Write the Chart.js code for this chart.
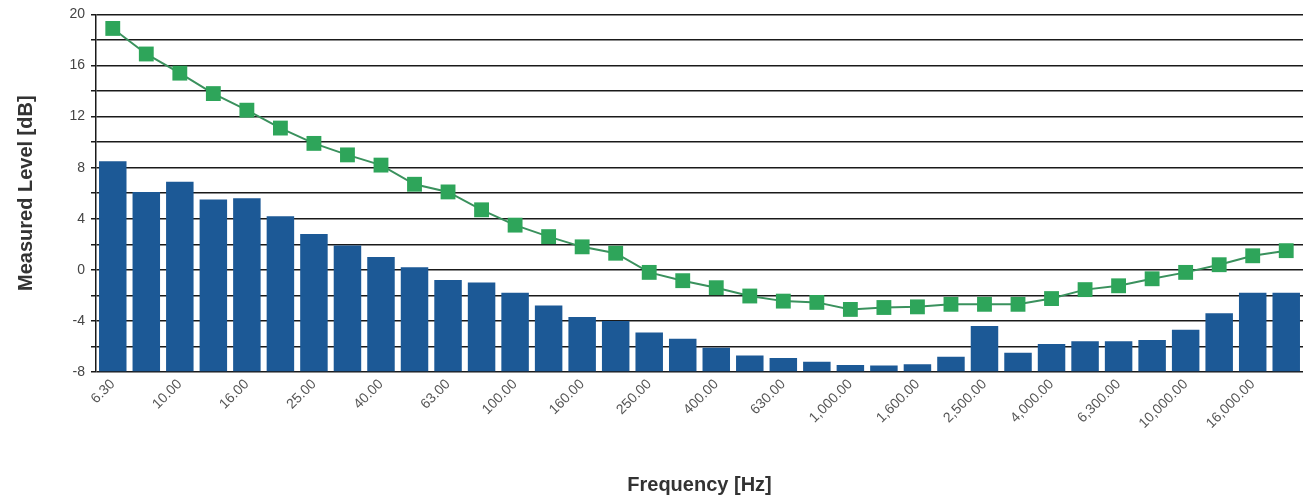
<!DOCTYPE html>
<html>
<head>
<meta charset="utf-8">
<script src="https://cdn.jsdelivr.net/npm/chart.js@4/dist/chart.umd.min.js"></script>
<style>
html,body{margin:0;padding:0;background:#fff;}
#wrap{width:1303px;height:502px;position:relative;}
</style>
</head>
<body>
<div id="wrap"><canvas id="c"></canvas></div>
<script>
const categories = ["6.30","8.00","10.00","12.50","16.00","20.00","25.00","31.50","40.00","50.00","63.00","80.00","100.00","125.00","160.00","200.00","250.00","315.00","400.00","500.00","630.00","800.00","1,000.00","1,250.00","1,600.00","2,000.00","2,500.00","3,150.00","4,000.00","5,000.00","6,300.00","8,000.00","10,000.00","12,500.00","16,000.00","20,000.00"];
const measuredBars = [8.5,6.1,6.9,5.5,5.6,4.2,2.8,1.9,1.0,0.2,-0.8,-1.0,-1.8,-2.8,-3.7,-4.0,-4.9,-5.4,-6.1,-6.7,-6.9,-7.2,-7.45,-7.5,-7.4,-6.8,-4.4,-6.5,-5.8,-5.6,-5.6,-5.5,-4.7,-3.4,-1.8,-1.8];
const curveLine = [18.9,16.9,15.4,13.8,12.5,11.1,9.9,9.0,8.2,6.7,6.1,4.7,3.5,2.6,1.8,1.3,-0.2,-0.85,-1.4,-2.05,-2.45,-2.55,-3.1,-2.95,-2.9,-2.7,-2.7,-2.7,-2.25,-1.55,-1.25,-0.7,-0.2,0.4,1.1,1.5];
const yMin = -8, yMax = 20, yStep = 2, yLabelEvery = 4;

new Chart(document.getElementById('c'), {
  data: {
    labels: categories,
    datasets: [
      {
        type: 'line',
        data: curveLine,
        borderColor: '#3a915d',
        borderWidth: 2,
        pointStyle: 'rect',
        pointRadius: 10.5,
        pointBackgroundColor: '#2ea55a',
        pointBorderWidth: 0,
        pointBorderColor: '#2ea55a',
        tension: 0,
        clip: false,
        order: 0
      },
      {
        type: 'bar',
        data: measuredBars,
        backgroundColor: '#1c5996',
        borderWidth: 0,
        barPercentage: 0.82,
        categoryPercentage: 1.0,
        base: yMin,
        order: 1
      }
    ]
  },
  options: {
    responsive: true,
    maintainAspectRatio: false,
    animation: false,
    layout: { autoPadding: false, padding: { top: 8, right: 0, left: 0, bottom: 0 } },
    plugins: { legend: { display: false }, tooltip: { enabled: false } },
    scales: {
      x: {
        offset: true,
        grid: { display: false, drawTicks: false },
        border: { display: false },
        ticks: {
          autoSkip: false,
          minRotation: 45,
          maxRotation: 45,
          color: '#555',
          font: { family: 'Arial, "Liberation Sans"', size: 14 },
          padding: 4,
          callback: function(v, i) { return i % 2 === 0 ? this.getLabelForValue(v) : ''; }
        },
        title: {
          display: true,
          text: 'Frequency [Hz]',
          color: '#333',
          font: { family: 'Arial, "Liberation Sans"', size: 20, weight: 'bold' },
          padding: { top: 0, bottom: 5 }
        },
        afterFit: function(s) { s.height = 130; s.paddingRight = 0; s.paddingLeft = 0; }
      },
      y: {
        min: yMin,
        max: yMax,
        grid: { color: '#1a1a1a', lineWidth: 1.5, tickLength: 5, drawTicks: true },
        border: { display: true, color: '#1a1a1a', width: 1.5 },
        ticks: {
          stepSize: yStep,
          color: '#444',
          font: { family: 'Arial, "Liberation Sans"', size: 14 },
          padding: 6,
          callback: function(v) { return (v % yLabelEvery === 0) ? String(v) : ''; }
        },
        title: {
          display: true,
          text: 'Measured Level [dB]',
          color: '#333',
          font: { family: 'Arial, "Liberation Sans"', size: 20, weight: 'bold' },
          padding: { top: 14, bottom: 0 }
        },
        afterFit: function(s) { s.width = 96; }
      }
    }
  }
});
</script>
</body>
</html>
